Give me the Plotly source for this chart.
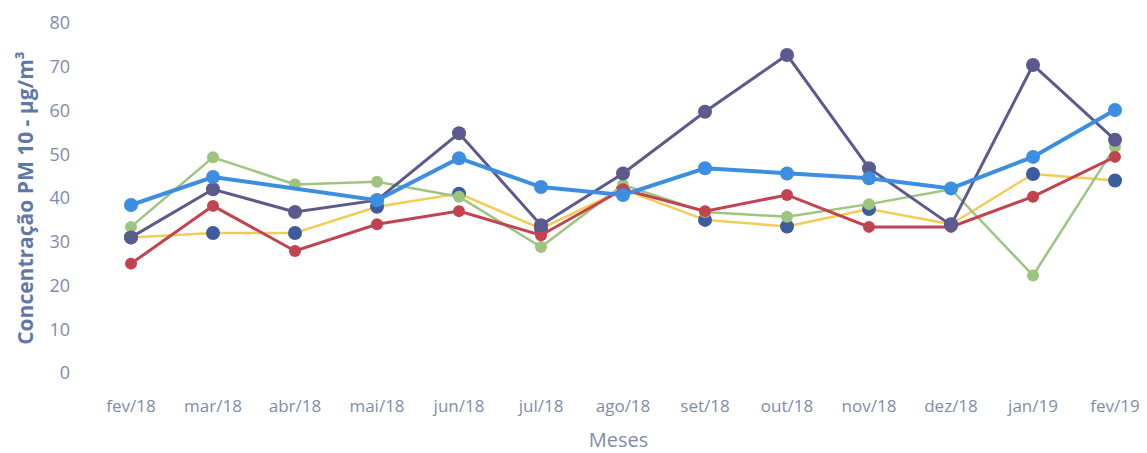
import plotly.graph_objects as go

months = ["fev/18", "mar/18", "abr/18", "mai/18", "jun/18", "jul/18", "ago/18",
          "set/18", "out/18", "nov/18", "dez/18", "jan/19", "fev/19"]

serie_amarela = [31, 32, 32, 38, 41, 33, 42, 35, 33.5, 37.5, 34, 45.5, 44]
serie_verde = [33.4, 49.3, 43.1, 43.7, 40.3, 28.8, 43, 36.8, 35.7, 38.6, 42, 22.3, 51.7]
serie_vermelha = [25, 38.2, 27.9, 34, 37, 31.5, 42, 37, 40.7, 33.4, 33.4, 40.3, 49.4]
serie_roxa = [31, 42, 36.8, 39.5, 54.8, 33.8, 45.6, 59.7, 72.7, 46.8, 33.8, 70.4, 53.3]
serie_azul = [38.4, 44.8, None, 39.5, 49.1, 42.5, 40.7, 46.8, 45.6, 44.5, 42.2, 49.4, 60.1]

x_idx = list(range(len(months)))

fig = go.Figure()
fig.add_trace(go.Scatter(x=x_idx, y=serie_amarela, mode="lines+markers",
                         line=dict(color="#F3CB55", width=2.5),
                         marker=dict(color="#3D5C9E", size=14), name="S1", cliponaxis=False))
fig.add_trace(go.Scatter(x=x_idx, y=serie_verde, mode="lines+markers",
                         line=dict(color="#9DC57F", width=2.5),
                         marker=dict(color="#9DC57F", size=12), name="S2", cliponaxis=False))
fig.add_trace(go.Scatter(x=x_idx, y=serie_vermelha, mode="lines+markers",
                         line=dict(color="#C2424F", width=3),
                         marker=dict(color="#C2424F", size=12), name="S3", cliponaxis=False))
fig.add_trace(go.Scatter(x=x_idx, y=serie_roxa, mode="lines+markers",
                         line=dict(color="#5C5A8C", width=3),
                         marker=dict(color="#5C5A8C", size=14), name="S4", cliponaxis=False))
fig.add_trace(go.Scatter(x=x_idx, y=serie_azul, mode="lines+markers", connectgaps=True,
                         line=dict(color="#3B8EE0", width=4),
                         marker=dict(color="#3B8EE0", size=14), name="S5", cliponaxis=False))

fig.update_layout(
    width=1139, height=445,
    margin=dict(l=82, r=0, t=15, b=80),
    paper_bgcolor="white", plot_bgcolor="white",
    showlegend=False,
    font=dict(family="Open Sans", color="#7F8CA8"),
    xaxis=dict(
        tickmode="array", tickvals=x_idx, ticktext=months, automargin=False,
        range=[-0.5, 12.39], showgrid=False, zeroline=False, showline=False,
        tickfont=dict(size=17, color="#7F8CA8"), ticklabelstandoff=21,
        title=dict(text="Meses", font=dict(size=20, color="#7F8CA8"), standoff=18),
    ),
    yaxis=dict(
        range=[0, 80], dtick=10, showgrid=False, zeroline=False, showline=False,
        automargin=False,
        tickfont=dict(size=18, color="#7F8CA8"), ticklabelstandoff=19,
        title=dict(text="<b>Concentração PM 10 - µg/m³</b>",
                   font=dict(size=21, color="#5F78A8"), standoff=10),
    ),
)

fig.write_html("out.html")
